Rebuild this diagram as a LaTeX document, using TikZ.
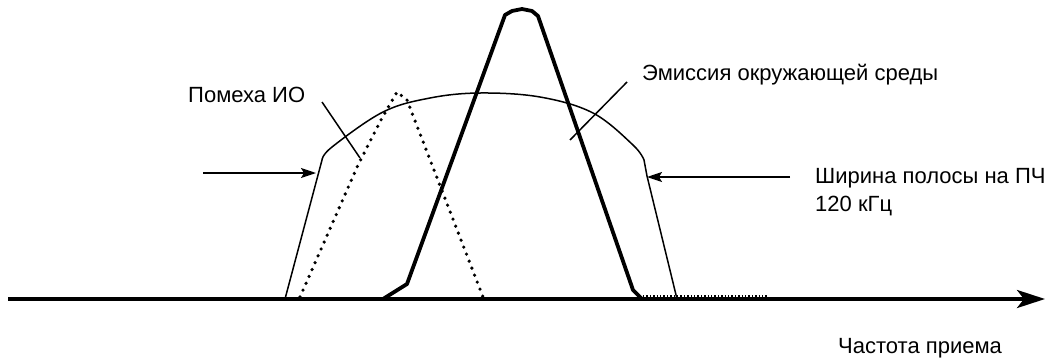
\documentclass[tikz,border=0pt]{standalone}
\usepackage{fontspec}
\setmainfont{Liberation Sans}
\usetikzlibrary{arrows.meta, positioning}

\begin{document}
\begin{tikzpicture}[x=1pt, y=-1pt, font=\fontsize{22}{28}\selectfont,
  label/.style={inner sep=0pt, anchor=base west},
  thin line/.style={line width=1.5pt},
  thick line/.style={line width=3.8pt, line join=round},
  pointer/.style={line width=1.5pt, -{Stealth[length=15pt, width=10pt, inset=3pt]}}]
\useasboundingbox (0,0) rectangle (1056,362);
% axis
\coordinate (a0) at (8,299);
\coordinate (a1) at (1045,299);
\draw [line width=3.8pt, -{Stealth[length=28pt, width=18pt, inset=7pt]}] (a0) -- (a1);
\draw [line width=1.4pt, dotted] (643,296) -- (767,296);
% emission envelope
\draw [thin line] (285,299) -- (322,160)
  plot [smooth, tension=0.6] coordinates {(322,160) (332,147) (383,112) (430,98) (480,93) (540,97) (593,113) (633,145) (644,160)}
  -- (647,176) -- (677,299);
% interference
\draw [line width=3.6pt, line cap=round, dash pattern=on 0pt off 7.5pt]
  (300,297) -- (358,165) -- (382,118) -- (397,92) -- (407,100) -- (483,297);
% receiver response
\draw [thick line] (383,299) -- (407,284) -- (505,15) -- (512,11) -- (522,9)
  -- (532,11) -- (538,16) -- (633,290) -- (642,299);
% labels
\node (pomeha) [label] at (188,102) {Помеха ИО};
\node (emis) [label] at (642,80) {Эмиссия окружающей среды};
\node (band) [label] at (815,183) {Ширина полосы на ПЧ};
\node (khz) [label] at (815,211) {120 кГц};
\node (freq) [label] at (838,353) {Частота приема};
% leaders
\coordinate (p0) at (322,102);
\coordinate (p1) at (360,158);
\coordinate (e0) at (627,82);
\coordinate (e1) at (570,140);
\draw [thin line] (p0) -- (p1);
\draw [thin line] (e0) -- (e1);
\coordinate (l0) at (203,173);
\coordinate (l1) at (316,173);
\coordinate (r0) at (790,177);
\coordinate (r1) at (647,177);
\draw [pointer] (l0) -- (l1);
\draw [pointer] (r0) -- (r1);
\end{tikzpicture}
\end{document}
